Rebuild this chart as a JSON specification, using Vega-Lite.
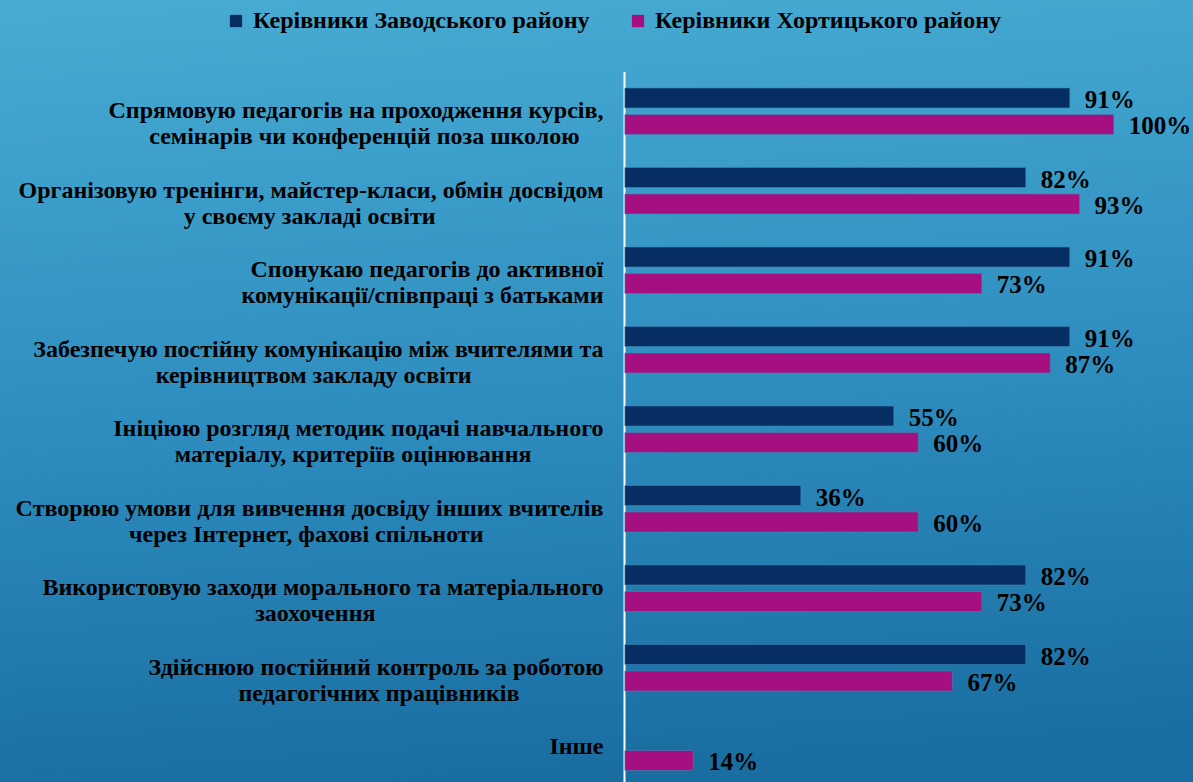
{
  "$schema": "https://vega.github.io/schema/vega-lite/v6.json",
  "width": 1193,
  "height": 782,
  "autosize": {"type": "fit", "contains": "padding"},
  "padding": 0,
  "background": "#2E8DBF",
  "config": {
    "view": {
      "stroke": null,
      "fill": {
        "gradient": "linear",
        "x1": 0.3, "y1": 0, "x2": 0.4, "y2": 1,
        "stops": [
          {"offset": 0, "color": "#46AAD2"},
          {"offset": 0.5, "color": "#2F8EC0"},
          {"offset": 1, "color": "#196DA1"}
        ]
      }
    },
    "font": "Liberation Serif"
  },
  "data": {
    "values": [
      {"cat": "Спрямовую педагогів на проходження курсів,\nсемінарів чи конференцій поза школою\u2002\u2002\u200b", "series": "Керівники Заводського району", "value": 91},
      {"cat": "Спрямовую педагогів на проходження курсів,\nсемінарів чи конференцій поза школою\u2002\u2002\u200b", "series": "Керівники Хортицького району", "value": 100},
      {"cat": "Організовую тренінги, майстер-класи, обмін досвідом\nу своєму закладі освіти\u2002\u2002\u2002\u2002\u2002\u2002\u2002\u2002\u2002\u2002\u2002\u2002\u2002\u2002\u200b", "series": "Керівники Заводського району", "value": 82},
      {"cat": "Організовую тренінги, майстер-класи, обмін досвідом\nу своєму закладі освіти\u2002\u2002\u2002\u2002\u2002\u2002\u2002\u2002\u2002\u2002\u2002\u2002\u2002\u2002\u200b", "series": "Керівники Хортицького району", "value": 93},
      {"cat": "Спонукаю педагогів до активної\nкомунікації/співпраці з батьками", "series": "Керівники Заводського району", "value": 91},
      {"cat": "Спонукаю педагогів до активної\nкомунікації/співпраці з батьками", "series": "Керівники Хортицького району", "value": 73},
      {"cat": "Забезпечую постійну комунікацію між вчителями та\nкерівництвом закладу освіти\u2002\u2002\u2002\u2002\u2002\u2002\u2002\u2002\u2002\u2002\u2002\u200b", "series": "Керівники Заводського району", "value": 91},
      {"cat": "Забезпечую постійну комунікацію між вчителями та\nкерівництвом закладу освіти\u2002\u2002\u2002\u2002\u2002\u2002\u2002\u2002\u2002\u2002\u2002\u200b", "series": "Керівники Хортицького району", "value": 87},
      {"cat": "Ініціюю розгляд методик подачі навчального\nматеріалу, критеріїв оцінювання\u2002\u2002\u2002\u2002\u2002\u2002\u200b", "series": "Керівники Заводського району", "value": 55},
      {"cat": "Ініціюю розгляд методик подачі навчального\nматеріалу, критеріїв оцінювання\u2002\u2002\u2002\u2002\u2002\u2002\u200b", "series": "Керівники Хортицького району", "value": 60},
      {"cat": "Створюю умови для вивчення досвіду інших вчителів\nчерез Інтернет, фахові спільноти\u2002\u2002\u2002\u2002\u2002\u2002\u2002\u2002\u2002\u2002\u200b", "series": "Керівники Заводського району", "value": 36},
      {"cat": "Створюю умови для вивчення досвіду інших вчителів\nчерез Інтернет, фахові спільноти\u2002\u2002\u2002\u2002\u2002\u2002\u2002\u2002\u2002\u2002\u200b", "series": "Керівники Хортицького району", "value": 60},
      {"cat": "Використовую заходи морального та матеріального\nзаохочення\u2002\u2002\u2002\u2002\u2002\u2002\u2002\u2002\u2002\u2002\u2002\u2002\u2002\u2002\u2002\u2002\u2002\u2002\u2002\u200b", "series": "Керівники Заводського району", "value": 82},
      {"cat": "Використовую заходи морального та матеріального\nзаохочення\u2002\u2002\u2002\u2002\u2002\u2002\u2002\u2002\u2002\u2002\u2002\u2002\u2002\u2002\u2002\u2002\u2002\u2002\u2002\u200b", "series": "Керівники Хортицького району", "value": 73},
      {"cat": "Здійснюю постійний контроль за роботою\nпедагогічних працівників\u2002\u2002\u2002\u2002\u2002\u2002\u2002\u200b", "series": "Керівники Заводського району", "value": 82},
      {"cat": "Здійснюю постійний контроль за роботою\nпедагогічних працівників\u2002\u2002\u2002\u2002\u2002\u2002\u2002\u200b", "series": "Керівники Хортицького району", "value": 67},
      {"cat": "Інше", "series": "Керівники Хортицького району", "value": 14}
    ]
  },
  "transform": [
    {"calculate": "datum.value + '%'", "as": "label"}
  ],
  "encoding": {
    "y": {
      "field": "cat",
      "type": "nominal",
      "sort": null,
      "scale": {"range": [71.5, 787], "paddingInner": 0, "paddingOuter": 0},
      "axis": {
        "orient": "left",
        "offset": -624,
        "title": null,
        "ticks": false,
        "domainColor": "#FFFFFF",
        "domainWidth": 2,
        "labelExpr": "split(datum.label, '\\n')",
        "labelFont": "Liberation Serif",
        "labelFontWeight": "bold",
        "labelFontSize": 24,
        "labelColor": "#000000",
        "labelLineHeight": 26,
        "labelPadding": 21,
        "labelAlign": "right",
        "labelBaseline": "middle",
        "labelLimit": 800
      }
    },
    "yOffset": {
      "field": "series",
      "type": "nominal",
      "scale": {"domain": ["Керівники Заводського району", "Керівники Хортицького району"], "paddingInner": 0.245, "paddingOuter": 0.6226}
    },
    "x": {
      "field": "value",
      "type": "quantitative",
      "scale": {"domain": [-127.8, 116.2], "nice": false, "zero": false},
      "axis": null
    }
  },
  "layer": [
    {
      "mark": {"type": "bar", "stroke": "#3C86B8", "strokeWidth": 0.6},
      "encoding": {
        "x": {"datum": 0},
        "x2": {"field": "value"},
        "fill": {
          "field": "series",
          "type": "nominal",
          "scale": {"domain": ["Керівники Заводського району", "Керівники Хортицького району"], "range": ["#062E62", "#A50F7F"]},
          "legend": {
            "title": null,
            "orient": "none",
            "legendX": 224,
            "legendY": 9,
            "direction": "horizontal",
            "symbolType": "square",
            "symbolSize": 150,
            "symbolStrokeWidth": 0,
            "labelFont": "Liberation Serif",
            "labelFontWeight": "bold",
            "labelFontSize": 24,
            "labelColor": "#000000",
            "labelOffset": 5,
            "columnPadding": 36,
            "labelLimit": 600
          }
        }
      }
    },
    {
      "mark": {"type": "text", "align": "left", "baseline": "middle", "dx": 15, "dy": 2, "font": "Liberation Serif", "fontWeight": "bold", "fontSize": 25, "color": "#000000"},
      "encoding": {
        "text": {"field": "label"}
      }
    }
  ]
}
